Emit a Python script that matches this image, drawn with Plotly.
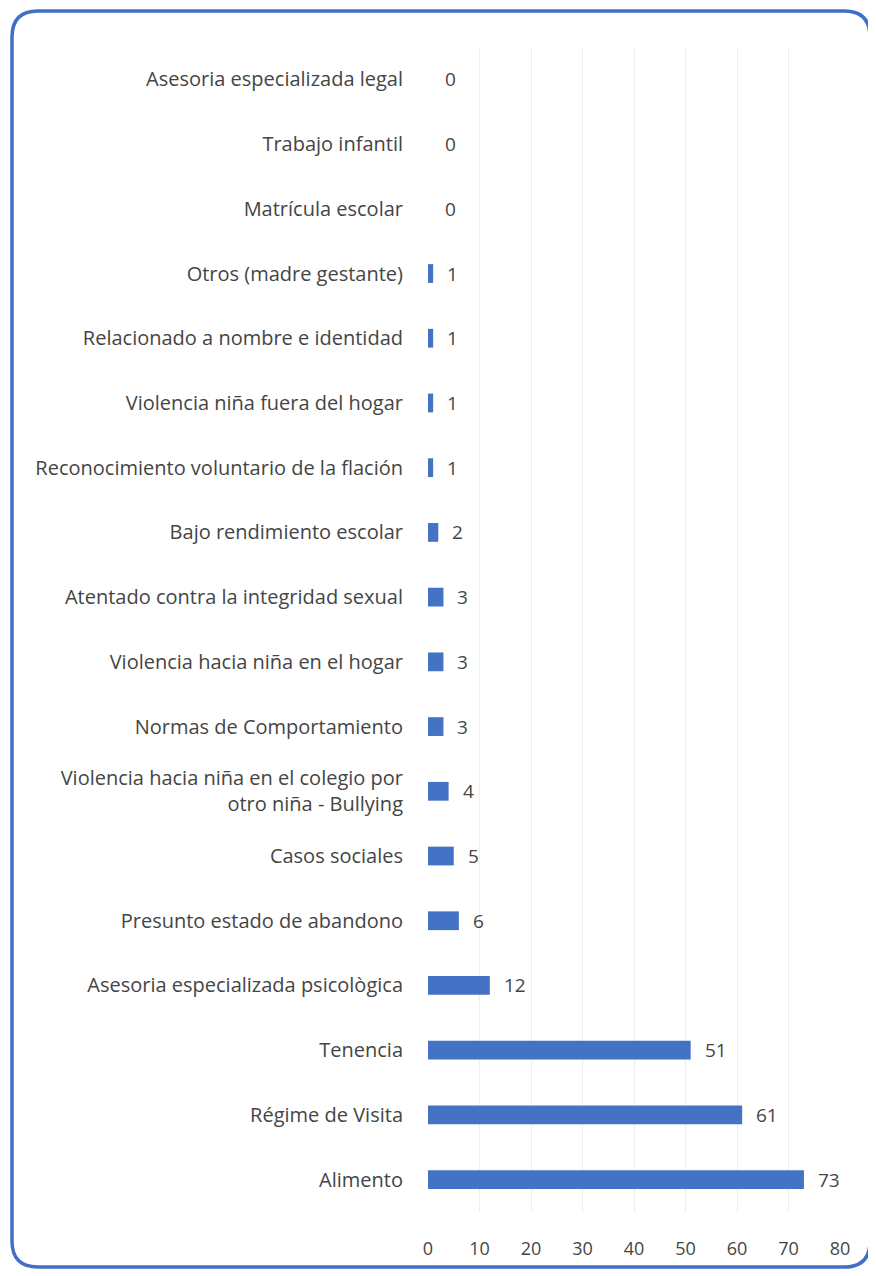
import plotly.graph_objects as go

# categories from bottom to top
categorias = [
    "Alimento",
    "Régime de Visita",
    "Tenencia",
    "Asesoria especializada psicològica",
    "Presunto estado de abandono",
    "Casos sociales",
    "Violencia hacia niña en el colegio por<br>otro niña - Bullying",
    "Normas de Comportamiento",
    "Violencia hacia niña en el hogar",
    "Atentado contra la integridad sexual",
    "Bajo rendimiento escolar",
    "Reconocimiento voluntario de la flación",
    "Violencia niña fuera del hogar",
    "Relacionado a nombre e identidad",
    "Otros (madre gestante)",
    "Matrícula escolar",
    "Trabajo infantil",
    "Asesoria especializada legal",
]
casos = [73, 61, 51, 12, 6, 5, 4, 3, 3, 3, 2, 1, 1, 1, 1, 0, 0, 0]
x_ticks = [0, 10, 20, 30, 40, 50, 60, 70, 80]

# page body adds 8px margin, so the figure is 8px smaller than the window
W, H = 868, 1268
ml, mr, mt, mb = 420, 36, 39, 64
pw, ph = W - ml - mr, H - mt - mb

fig = go.Figure(go.Bar(
    x=casos, y=categorias, orientation="h",
    marker=dict(color="#4472C4", line=dict(width=0)),
    hoverinfo="x+y",
))

for c, v in zip(categorias, casos):
    fig.add_annotation(x=v, y=c, text=str(v), showarrow=False,
                       xanchor="left", xshift=12 if v > 0 else 15,
                       font=dict(size=19, color="#454545"))

# rounded blue border around the chart (pixel -> paper)
def px2paper(px, py):
    return (px - ml) / pw, (H - mb - py) / ph

x0, x1, y0, y1, r = 4, 862, 3, 1259, 26
pts = {
    "a": px2paper(x0 + r, y0), "b": px2paper(x1 - r, y0), "c": px2paper(x1, y0),
    "d": px2paper(x1, y0 + r), "e": px2paper(x1, y1 - r), "f": px2paper(x1, y1),
    "g": px2paper(x1 - r, y1), "h": px2paper(x0 + r, y1), "i": px2paper(x0, y1),
    "j": px2paper(x0, y1 - r), "k": px2paper(x0, y0 + r), "l": px2paper(x0, y0),
}
p = lambda k: f"{pts[k][0]:.5f},{pts[k][1]:.5f}"
path = (f"M {p('a')} L {p('b')} Q {p('c')} {p('d')} L {p('e')} Q {p('f')} {p('g')} "
        f"L {p('h')} Q {p('i')} {p('j')} L {p('k')} Q {p('l')} {p('a')} Z")
fig.add_shape(type="path", path=path, xref="paper", yref="paper",
              line=dict(color="#3F6FC6", width=3.5), layer="above")

fig.update_layout(
    width=W, height=H,
    margin=dict(l=ml, r=mr, t=mt, b=mb, autoexpand=False),
    paper_bgcolor="white", plot_bgcolor="white",
    font=dict(family="Open Sans, sans-serif", size=20, color="#454545"),
    bargap=0.71,
    showlegend=False,
    xaxis=dict(range=[0, 80], tickvals=x_ticks, showgrid=True,
               gridcolor="#EEEEEE", gridwidth=1, zeroline=False,
               showline=False, tickfont=dict(size=18, color="#454545"),
               ticks="", ticklabelstandoff=24, automargin=False),
    yaxis=dict(type="category", showgrid=False, showline=False,
               ticks="", ticklabelstandoff=24, automargin=False,
               tickfont=dict(size=20, color="#454545")),
)

fig.write_html("out.html")
